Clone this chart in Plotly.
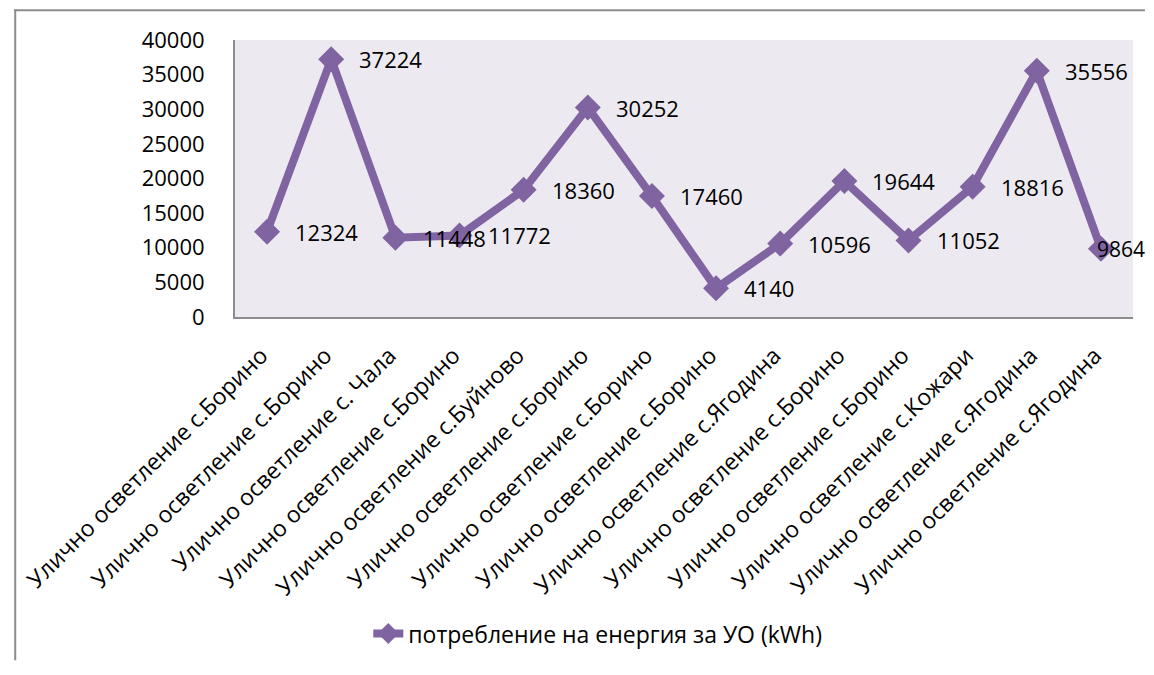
import plotly.graph_objects as go

categories = [
    "Улично осветление с.Борино",
    "Улично осветление с.Борино",
    "Улично осветление с. Чала",
    "Улично осветление с.Борино",
    "Улично осветление с.Буйново",
    "Улично осветление с.Борино",
    "Улично осветление с.Борино",
    "Улично осветление с.Борино",
    "Улично осветление с.Ягодина",
    "Улично осветление с.Борино",
    "Улично осветление с.Борино",
    "Улично осветление с.Кожари",
    "Улично осветление с.Ягодина",
    "Улично осветление с.Ягодина",
]
values = [12324, 37224, 11448, 11772, 18360, 30252, 17460, 4140,
          10596, 19644, 11052, 18816, 35556, 9864]
series_name = "потребление на енергия за УО (kWh)"
y_ticks = [0, 5000, 10000, 15000, 20000, 25000, 30000, 35000, 40000]
y_tick_labels = [str(v) for v in y_ticks]

FONT = "Open Sans"
PURPLE = "#8064A2"
# page body has an 8px margin on every side; size the figure to fit inside
W, H = 1138, 659
ML, MR, MT, MB = 222, 13, 32, 347

x_idx = list(range(len(categories)))

fig = go.Figure()
fig.add_trace(go.Scatter(
    x=x_idx, y=values, mode="lines+markers", name=series_name,
    line=dict(color=PURPLE, width=8),
    marker=dict(symbol="diamond", size=20, color=PURPLE),
))

annotations = []
for i, v in enumerate(values):
    last = i == len(values) - 1
    annotations.append(dict(
        x=i, y=v, xref="x", yref="y", text=str(v), showarrow=False,
        xanchor="left", yanchor="middle", xshift=-6 if last else 26,
        font=dict(family=FONT, size=22 if not last else 21, color="black"),
    ))

pw = W - ML - MR
ph = H - MT - MB
px = lambda v: (v - ML) / pw
py = lambda v: ((H - MB) - v) / ph
border = dict(color="#8c8c8c", width=2)
shapes = [
    dict(type="line", xref="paper", yref="paper",
         x0=px(1), x1=px(1), y0=py(1), y1=py(H), line=border),
    dict(type="line", xref="paper", yref="paper",
         x0=px(0), x1=px(W - 1), y0=py(2), y1=py(2), line=border),
]

fig.update_layout(
    width=W, height=H,
    margin=dict(l=ML, r=MR, t=MT, b=MB),
    paper_bgcolor="white", plot_bgcolor="#ECEAF0",
    font=dict(family=FONT, color="black"),
    showlegend=True,
    legend=dict(orientation="h", x=0.404, y=py(632),
                xanchor="center", yanchor="middle",
                font=dict(family=FONT, size=23, color="black"),
                bgcolor="rgba(0,0,0,0)"),
    annotations=annotations,
    shapes=shapes,
    xaxis=dict(
        range=[-0.5, len(categories) - 0.5],
        tickmode="array", tickvals=x_idx, ticktext=categories,
        tickangle=-45, showgrid=False, zeroline=False,
        showline=True, linecolor="#8c8c8c", linewidth=2,
        ticks="", ticklabelstandoff=14, ticklabelshift=-6,
        tickfont=dict(family=FONT, size=23, color="black"),
    ),
    yaxis=dict(
        range=[0, 40000], tickmode="array", tickvals=y_ticks, ticktext=y_tick_labels,
        showgrid=False, zeroline=False,
        showline=True, linecolor="#8c8c8c", linewidth=2,
        ticks="", ticklabelstandoff=24,
        tickfont=dict(family=FONT, size=22, color="black"),
    ),
)

fig.write_html("out.html", config={"displayModeBar": False})
